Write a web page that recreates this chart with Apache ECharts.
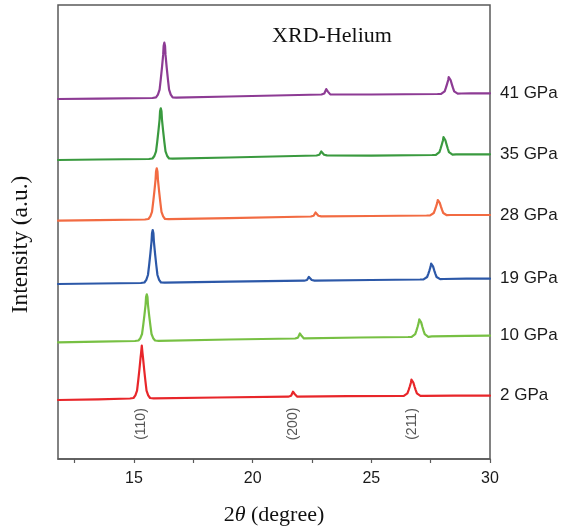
<!DOCTYPE html>
<html>
<head>
<meta charset="utf-8">
<script src="https://cdn.jsdelivr.net/npm/echarts@6/dist/echarts.min.js"></script>
<style>
    html, body { margin: 0; padding: 0; background: #fff; }
    #chart { width: 574px; height: 532px; }
</style>
</head>
<body>
<div id="chart"></div>
<script>
// pressure labels, bottom to top
var pressures = ['2 GPa', '10 GPa', '19 GPa', '28 GPa', '35 GPa', '41 GPa'];

// [2theta, intensity (offset, a.u.)]
var xrd2 = [[11.8, 59], [13.5, 59.7],
    [14.83, 60.5], [14.98, 61], [15.06, 63.7], [15.13, 68.4], [15.18, 78.5], [15.23, 89.5], [15.28, 101.7], [15.3, 106], [15.33, 113.3],
    [15.36, 106], [15.38, 101.7], [15.43, 89.5], [15.48, 78.5], [15.53, 68.4], [15.6, 63.7], [15.68, 61], [15.83, 60.6],
    [18.5, 61.5], [21.5, 62.3], [21.57, 62.4], [21.62, 63.2], [21.67, 65], [21.7, 67.3], [21.72, 68.5], [21.74, 67.3], [21.77, 65], [21.82, 63.2], [21.87, 62.4], [21.94, 62.4],
    [24, 62.8], [26.22, 63], [26.37, 63.2], [26.45, 64], [26.52, 65.6], [26.57, 68.9], [26.62, 72.5], [26.67, 76.5], [26.69, 79.3], [26.72, 80.3],
    [26.75, 79.3], [26.77, 76.5], [26.82, 72.5], [26.87, 68.9], [26.92, 65.6], [26.99, 64], [27.07, 63.2], [27.22, 63.2], [28.5, 63.3], [30, 63.3]];
var xrd10 = [[11.8, 116.7], [13.5, 117.4],
    [15.04, 118], [15.19, 118.5], [15.27, 120.8], [15.34, 125], [15.39, 133.9], [15.44, 143.7], [15.49, 154.4], [15.51, 161.9], [15.54, 164.7],
    [15.57, 161.9], [15.59, 154.4], [15.64, 143.7], [15.69, 133.9], [15.74, 125], [15.81, 120.8], [15.89, 118.5], [16.04, 118.2],
    [19, 119.5], [21.79, 120.5], [21.86, 120.6], [21.91, 121.4], [21.96, 123.2], [21.99, 125.5], [22.01, 126.7], [22.03, 125.5], [22.06, 123.2], [22.11, 121.4], [22.16, 120.6], [22.23, 120.6],
    [24.5, 121.5], [26.55, 122], [26.7, 122.2], [26.78, 123.1], [26.85, 124.8], [26.9, 128.4], [26.95, 132.3], [27, 136.6], [27.02, 139.6], [27.05, 140.7],
    [27.08, 139.6], [27.1, 136.6], [27.15, 132.3], [27.2, 128.4], [27.25, 124.8], [27.32, 123.1], [27.4, 122.2], [27.55, 122.6], [29, 123.2], [30, 123.3]];
var xrd19 = [[11.8, 175], [13.5, 175.5],
    [15.29, 176], [15.44, 176.5], [15.52, 179.2], [15.59, 184], [15.64, 194], [15.69, 205.2], [15.74, 217.3], [15.76, 225.8], [15.79, 229],
    [15.82, 225.8], [15.84, 217.3], [15.89, 205.2], [15.94, 194], [15.99, 184], [16.06, 179.2], [16.14, 176.5], [16.29, 176.3],
    [19, 177.3], [22.17, 178.3], [22.24, 178.4], [22.29, 179], [22.34, 180.3], [22.37, 182.1], [22.39, 183], [22.41, 182.1], [22.44, 180.3], [22.49, 179], [22.54, 178.4], [22.61, 178.4],
    [25, 179], [27.05, 179.5], [27.2, 179.7], [27.28, 180.5], [27.35, 182], [27.4, 185.2], [27.45, 188.7], [27.5, 192.6], [27.52, 195.3], [27.55, 196.3],
    [27.58, 195.3], [27.6, 192.6], [27.65, 188.7], [27.7, 185.2], [27.75, 182], [27.82, 180.5], [27.9, 179.9], [28.05, 180], [29, 180.3], [30, 180.3]];
var xrd28 = [[11.8, 238.3], [13.5, 238.8],
    [15.46, 239.5], [15.61, 240], [15.69, 242.6], [15.76, 247.2], [15.81, 256.9], [15.86, 267.7], [15.91, 279.4], [15.93, 287.6], [15.96, 290.7],
    [15.99, 287.6], [16.01, 279.4], [16.06, 267.7], [16.11, 256.9], [16.16, 247.2], [16.23, 242.6], [16.31, 240], [16.46, 239.8],
    [19, 240.8], [22.45, 242.5], [22.52, 242.6], [22.57, 243.3], [22.62, 244.7], [22.65, 246.5], [22.67, 247.5], [22.69, 246.5], [22.72, 244.7], [22.77, 243.3], [22.82, 242.6], [22.89, 242.6],
    [25, 243], [27.33, 243.5], [27.48, 243.7], [27.56, 244.5], [27.63, 246], [27.68, 249.1], [27.73, 252.6], [27.78, 256.4], [27.8, 259], [27.83, 260],
    [27.86, 259], [27.88, 256.4], [27.93, 252.6], [27.98, 249.1], [28.03, 246], [28.1, 244.5], [28.18, 243.8], [28.33, 244], [29, 244], [30, 244]];
var xrd35 = [[11.8, 299], [13.5, 299.5],
    [15.63, 300], [15.78, 300.5], [15.86, 303], [15.93, 307.6], [15.98, 317.2], [16.03, 327.9], [16.08, 339.5], [16.1, 347.7], [16.13, 350.7],
    [16.16, 347.7], [16.18, 339.5], [16.23, 327.9], [16.28, 317.2], [16.33, 307.6], [16.4, 303], [16.48, 300.5], [16.63, 300.3],
    [19, 301.5], [22.69, 303.5], [22.76, 303.6], [22.81, 304.3], [22.86, 305.7], [22.89, 307.5], [22.91, 308.5], [22.93, 307.5], [22.96, 305.7], [23.01, 304.3], [23.06, 303.6], [23.13, 303.6],
    [25, 303.3], [27.57, 304], [27.72, 304.2], [27.8, 305.1], [27.87, 306.9], [27.92, 310.5], [27.97, 314.5], [28.02, 318.8], [28.04, 321.9], [28.07, 323],
    [28.1, 321.9], [28.12, 318.8], [28.17, 314.5], [28.22, 310.5], [28.27, 306.9], [28.34, 305.1], [28.42, 304.4], [28.57, 304.6], [29, 304.7], [30, 304.7]];
var xrd41 = [[11.8, 360], [13.5, 360.4],
    [15.78, 361], [15.93, 361.6], [16.01, 364.3], [16.08, 369.3], [16.13, 379.8], [16.18, 391.4], [16.23, 404.1], [16.25, 413], [16.28, 416.3],
    [16.31, 413], [16.33, 404.1], [16.38, 391.4], [16.43, 379.8], [16.48, 369.3], [16.55, 364.3], [16.63, 361.6], [16.78, 361.3],
    [19, 362.5], [22.9, 364.5], [22.97, 364.6], [23.02, 365.5], [23.07, 367.4], [23.1, 369.9], [23.12, 371.3], [23.14, 369.9], [23.17, 367.4], [23.22, 365.5], [23.27, 364.6], [23.34, 364.6],
    [25, 364.5], [27.79, 365], [27.94, 365.2], [28.02, 366.1], [28.09, 367.7], [28.14, 371.1], [28.19, 374.9], [28.24, 379], [28.26, 381.9], [28.29, 383],
    [28.32, 381.9], [28.34, 379], [28.39, 374.9], [28.44, 371.1], [28.49, 367.7], [28.56, 366.1], [28.64, 365.4], [28.79, 365.5], [29.2, 365.7], [30, 365.7]];

// peak indexing labels
var hklNames = ['(110)', '(200)', '(211)'];
var hklPos = [15.3, 21.72, 26.72];
var hklY = 35;

var xTicks = [12.5, 15, 17.5, 20, 22.5, 25, 27.5, 30];
var xLabels = [15, 20, 25, 30];

var colors = ['#e8262a', '#77c043', '#2c58a8', '#f26b42', '#3a9a3f', '#8d3b94'];
var traces = [xrd2, xrd10, xrd19, xrd28, xrd35, xrd41];

var myChart = echarts.init(document.getElementById('chart'));

var series = traces.map(function (d, i) {
    return {
        name: pressures[i],
        type: 'line',
        data: d,
        showSymbol: false,
        smooth: false,
        lineStyle: { color: colors[i], width: 2.2, join: 'round', cap: 'round' },
        itemStyle: { color: colors[i] },
        endLabel: {
            show: true,
            formatter: '{a}',
            distance: 10,
            fontSize: 17,
            color: '#1a1a1a',
            fontFamily: 'Liberation Sans, Arial, sans-serif'
        },
        z: 3
    };
});

series.push({
    type: 'scatter',
    symbolSize: 1,
    itemStyle: { color: 'rgba(0,0,0,0)' },
    data: hklPos.map(function (x, i) {
        return { value: [x, hklY], name: hklNames[i] };
    }),
    label: {
        show: true,
        position: 'inside',
        rotate: 90,
        formatter: '{b}',
        fontSize: 14,
        color: '#2a2a2a',
        fontFamily: 'Liberation Sans, Arial, sans-serif'
    }
});

var option = {
    animation: false,
    grid: {
        left: 58, right: 84, top: 5, bottom: 73,
        show: true,
        borderColor: '#5a5a5a',
        borderWidth: 1.5
    },
    xAxis: {
        type: 'value',
        min: 11.8,
        max: 30,
        axisLine: { show: true, lineStyle: { color: '#5a5a5a', width: 1.5 } },
        axisTick: { show: true, length: 4, customValues: xTicks, lineStyle: { color: '#5a5a5a', width: 1.2 } },
        axisLabel: {
            customValues: xLabels,
            fontSize: 16,
            margin: 12,
            color: '#1a1a1a',
            fontFamily: 'Liberation Sans, Arial, sans-serif'
        },
        splitLine: { show: false },
        name: '2{i|θ} (degree)',
        nameLocation: 'middle',
        nameGap: 45,
        nameTextStyle: {
            fontSize: 22,
            color: '#111',
            fontFamily: 'Liberation Serif, Times New Roman, serif',
            rich: {
                i: {
                    fontSize: 22,
                    fontStyle: 'italic',
                    color: '#111',
                    fontFamily: 'Liberation Serif, Times New Roman, serif'
                }
            }
        }
    },
    yAxis: {
        type: 'value',
        min: 0,
        max: 454,
        axisLine: { show: false },
        axisTick: { show: false },
        axisLabel: { show: false },
        splitLine: { show: false }
    },
    graphic: [
        {
            type: 'text',
            x: 332,
            y: 36,
            style: {
                text: 'XRD-Helium',
                fill: '#111',
                font: '22px "Liberation Serif", "Times New Roman", serif',
                align: 'center',
                verticalAlign: 'middle'
            }
        },
        {
            type: 'text',
            x: 20.5,
            y: 244.5,
            rotation: Math.PI / 2,
            style: {
                text: 'Intensity (a.u.)',
                fill: '#111',
                font: '23.5px "Liberation Serif", "Times New Roman", serif',
                align: 'center',
                verticalAlign: 'middle'
            }
        }
    ],
    series: series
};
myChart.setOption(option);
</script>
</body>
</html>
